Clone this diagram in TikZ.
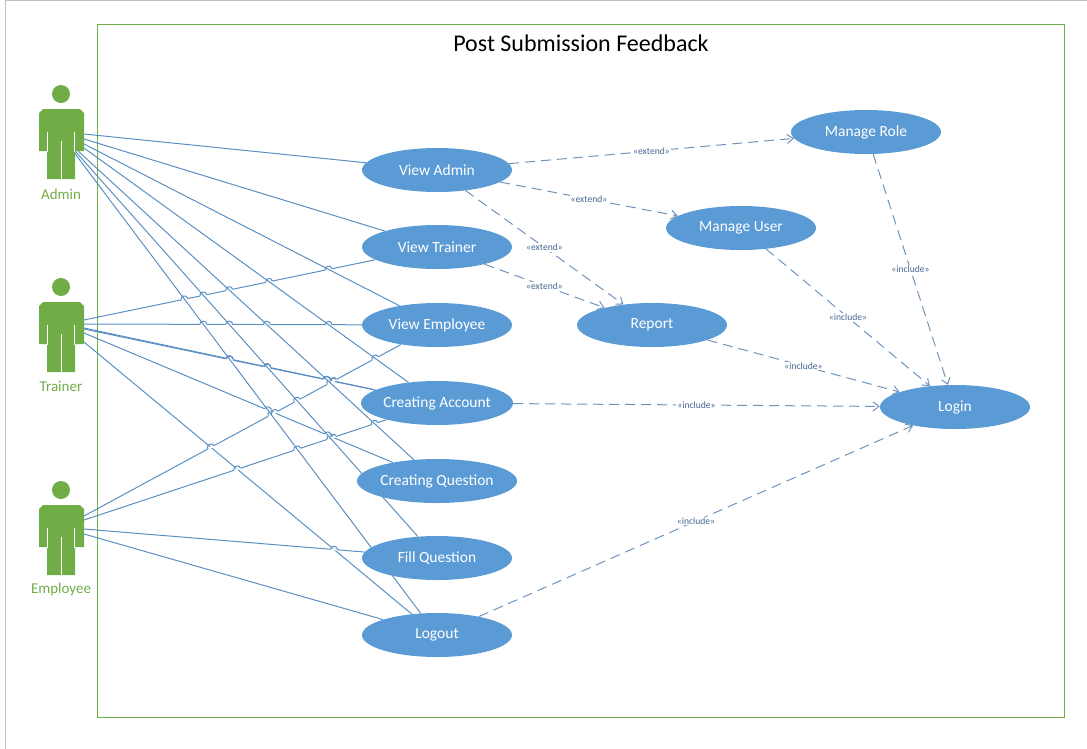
\documentclass[tikz,border=0pt]{standalone}
\usepackage{fontspec}
\setmainfont{Carlito}
\usetikzlibrary{arrows.meta,intersections,calc}
\definecolor{usefill}{HTML}{5B9BD5}
\definecolor{actorgreen}{HTML}{70AD47}
\definecolor{linkblue}{HTML}{5B8FC2}
\definecolor{dashblue}{HTML}{6F94BC}
\definecolor{labelblue}{HTML}{44688F}
\definecolor{framegray}{HTML}{BFBFBF}
\pgfdeclarelayer{back}
\pgfsetlayers{back,main}
\tikzset{
  usecase/.style={ellipse,fill=usefill,text=white,minimum width=150pt,minimum height=44pt,inner sep=0pt,font=\fontsize{15.5}{18}\selectfont},
  assoc/.style={draw=linkblue,line width=1pt},
  deplink/.style={draw=dashblue,line width=1pt,dash pattern=on 10pt off 6pt,-{Straight Barb[length=6pt,width=9pt,line width=1pt]}},
  deplabel/.style={midway,fill=white,text=labelblue,inner sep=1pt,font=\fontsize{9.6}{11}\selectfont},
  actorlabel/.style={text=actorgreen,inner sep=0pt,font=\fontsize{15}{18}\selectfont},
}
\usetikzlibrary{shapes.geometric}
\newcommand\actorfig[2]{%
  \begin{scope}[yshift=#1]
    \fill[actorgreen] (61,94) circle (9);
    \fill[actorgreen] (43,109) -- (80,109) -- (84,113) -- (84,151) -- (75,151) -- (75,179) -- (47,179) -- (47,151) -- (39,151) -- (39,113) -- cycle;
    \draw[white,line width=.9pt] (47.5,132) -- (47.5,151.5) (74.5,132) -- (74.5,151.5) (61.3,141) -- (61.3,179.5);
  \end{scope}}
\newcommand\hopover[3]{%
  \path[name intersections={of=#1 and #2,total=\hopt}] \pgfextra{\xdef\hopn{\hopt}};
  \ifnum\hopn>0
    \coordinate (ha) at ($(intersection-1)!-3.5pt!(#3)$);
    \coordinate (hb) at ($(intersection-1)!3.5pt!(#3)$);
    \draw[white,line width=1.8pt] (ha) -- (hb);
    \draw[assoc] (ha) .. controls ($(ha)!4.4pt!90:(hb)$) and ($(hb)!4.4pt!-90:(ha)$) .. (hb);
  \fi}
\begin{document}
\begin{tikzpicture}[x=1pt,y=-1pt]
\useasboundingbox (0,0) rectangle (1087,748);
% use cases
\node[usecase] (va) at (437,170) {View Admin};
\node[usecase] (vt) at (437,247) {View Trainer};
\node[usecase] (ve) at (437,325) {View Employee};
\node[usecase] (ca) at (437,403) {Creating Account};
\node[usecase] (cq) at (437,481) {Creating Question};
\node[usecase] (fq) at (437,558) {Fill Question};
\node[usecase] (lo) at (437,635) {Logout};
\node[usecase] (mr) at (866,132) {Manage Role};
\node[usecase] (mu) at (741,228) {Manage User};
\node[usecase] (re) at (652,325) {Report};
\node[usecase] (li) at (955,407) {Login};
\node (title) at (581,43) {\fontsize{24}{28}\selectfont Post Submission Feedback};
% actors
\actorfig{0pt}{}
\actorfig{-193pt}{}
\actorfig{-396pt}{}
\node[actorlabel] (admin) at (61,194) {Admin};
\node[actorlabel] (trainer) at (61,386) {Trainer};
\node[actorlabel] (employee) at (61,589) {Employee};
\coordinate (a1) at (84,134);
\coordinate (a2) at (84,139);
\coordinate (a3) at (84,144);
\coordinate (a4) at (84,148);
\coordinate (a5) at (78,151);
\coordinate (a6) at (75,151);
\coordinate (a7) at (73,151);
\coordinate (t1) at (84,320);
\coordinate (t2) at (84,324);
\coordinate (t3) at (84,328);
\coordinate (t3b) at (84,329);
\coordinate (t4) at (84,333);
\coordinate (t5) at (84,342);
\coordinate (e1) at (84,516);
\coordinate (e2) at (84,520);
\coordinate (e3) at (84,529);
\coordinate (e4) at (84,534);
\def\Alist{A1/a1/va,A2/a2/vt,A3/a3/ve,A4/a4/ca,A5/a5/cq,A6/a6/fq,A7/a7/lo}
\def\Tlist{T1/t1/vt,T2/t2/ve,T3/t3/ca,T6/t3b/ca,T4/t4/cq,T5/t5/lo}
\def\Elist{E1/e1/ve,E2/e2/ca,E3/e3/fq,E4/e4/lo}
\begin{pgfonlayer}{back}
  \draw[framegray,line width=1pt] (5.5,760) -- (5.5,.5) -- (1100,.5);
  \draw[actorgreen,line width=1pt] (97.5,24.5) rectangle (1064.5,717.5);
  \foreach \n/\s/\e in \Alist {\path[name path global=\n] (\s) -- (\e);}
  \foreach \n/\s/\e in \Elist {\draw[assoc,name path global=\n] (\s) -- (\e);}
  \foreach \n/\s/\e in \Tlist {\draw[assoc,name path global=\n] (\s) -- (\e);}
  \foreach \n/\s/\e in \Elist {
    \foreach \m/\p/\q in \Alist {\hopover{\n}{\m}{\e}}
    \foreach \m/\p/\q in \Tlist {\hopover{\n}{\m}{\e}}
  }
  \foreach \n/\s/\e in \Tlist {
    \foreach \m/\p/\q in \Alist {\hopover{\n}{\m}{\e}}
  }
  \foreach \n/\s/\e in \Alist {\draw[assoc] (\s) -- (\e);}
\end{pgfonlayer}
% dependencies
\draw[deplink] (va) -- node[deplabel] {<<extend>>} (mr);
\draw[deplink] (va) -- node[deplabel] {<<extend>>} (mu);
\draw[deplink] (va) -- node[deplabel] {<<extend>>} (re);
\draw[deplink] (vt) -- node[deplabel] {<<extend>>} (re);
\draw[deplink] (mr) -- node[deplabel] {<<include>>} (li);
\draw[deplink] (mu) -- node[deplabel] {<<include>>} (li);
\draw[deplink] (re) -- node[deplabel] {<<include>>} (li);
\draw[deplink] (ca) -- node[deplabel] {<<include>>} (li);
\draw[deplink] (lo) -- node[deplabel] {<<include>>} (li);
\end{tikzpicture}
\end{document}
